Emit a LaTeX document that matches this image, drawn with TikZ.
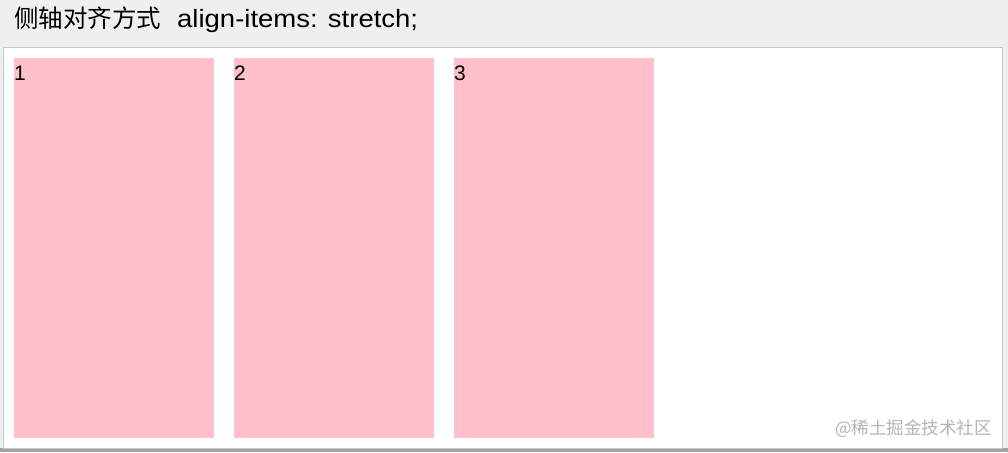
\documentclass[tikz,border=0pt]{standalone}
\usepackage{fontspec}
\setmainfont{Liberation Sans}
\newfontfamily\cjk{Noto Sans CJK SC}
\newfontfamily\titlefont[FakeStretch=1.1]{Liberation Sans}
\usetikzlibrary{positioning}
\definecolor{itempink}{HTML}{FFC0CB}
\definecolor{pagegray}{HTML}{EFEFEF}
\definecolor{framegray}{HTML}{C9C9C9}
\definecolor{bargray}{HTML}{A3A3A3}
\definecolor{markgray}{HTML}{B4B4B4}

\begin{document}
\begin{tikzpicture}[x=1pt, y=-1pt, node distance=20pt,
      item/.style={fill=itempink, inner sep=0pt, minimum width=200pt, minimum height=380pt, anchor=north west},
      num/.style={anchor=base west, inner sep=0pt, font=\fontsize{21}{21}\selectfont}]
    \useasboundingbox (0,0) rectangle (1008,452);
    \fill[pagegray] (0,0) rectangle (1008,452);
    \fill[bargray] (0,448) rectangle (1008,452);
    \draw[framegray, fill=white] (3.5,47.5) rectangle (1002.5,448);
    % heading
    \node (titlecjk) [anchor=base west, inner sep=0pt, font=\fontsize{24.5}{24.5}\selectfont\cjk]
      at (14,28) {侧轴对齐方式};
    \node (titlecss) [anchor=base west, inner sep=0pt, font=\fontsize{25}{25}\selectfont\titlefont]
      at (177,28) {align-items: stretch;};
    % flex items
    \node (one) [item] at (14,58) {};
    \node (two) [item] at (234,58) {};
    \node (three) [item] at (454,58) {};
    \node (n1) [num] at ([yshift=-22pt]one.north west) {1};
    \node (n2) [num] at ([yshift=-22pt]two.north west) {2};
    \node (n3) [num] at ([yshift=-22pt]three.north west) {3};
    \node (mark) [anchor=base east, inner sep=0pt, text=markgray, font=\fontsize{17.5}{17.5}\selectfont\cjk]
      at (992,434) {@稀土掘金技术社区};
\end{tikzpicture}
\end{document}
